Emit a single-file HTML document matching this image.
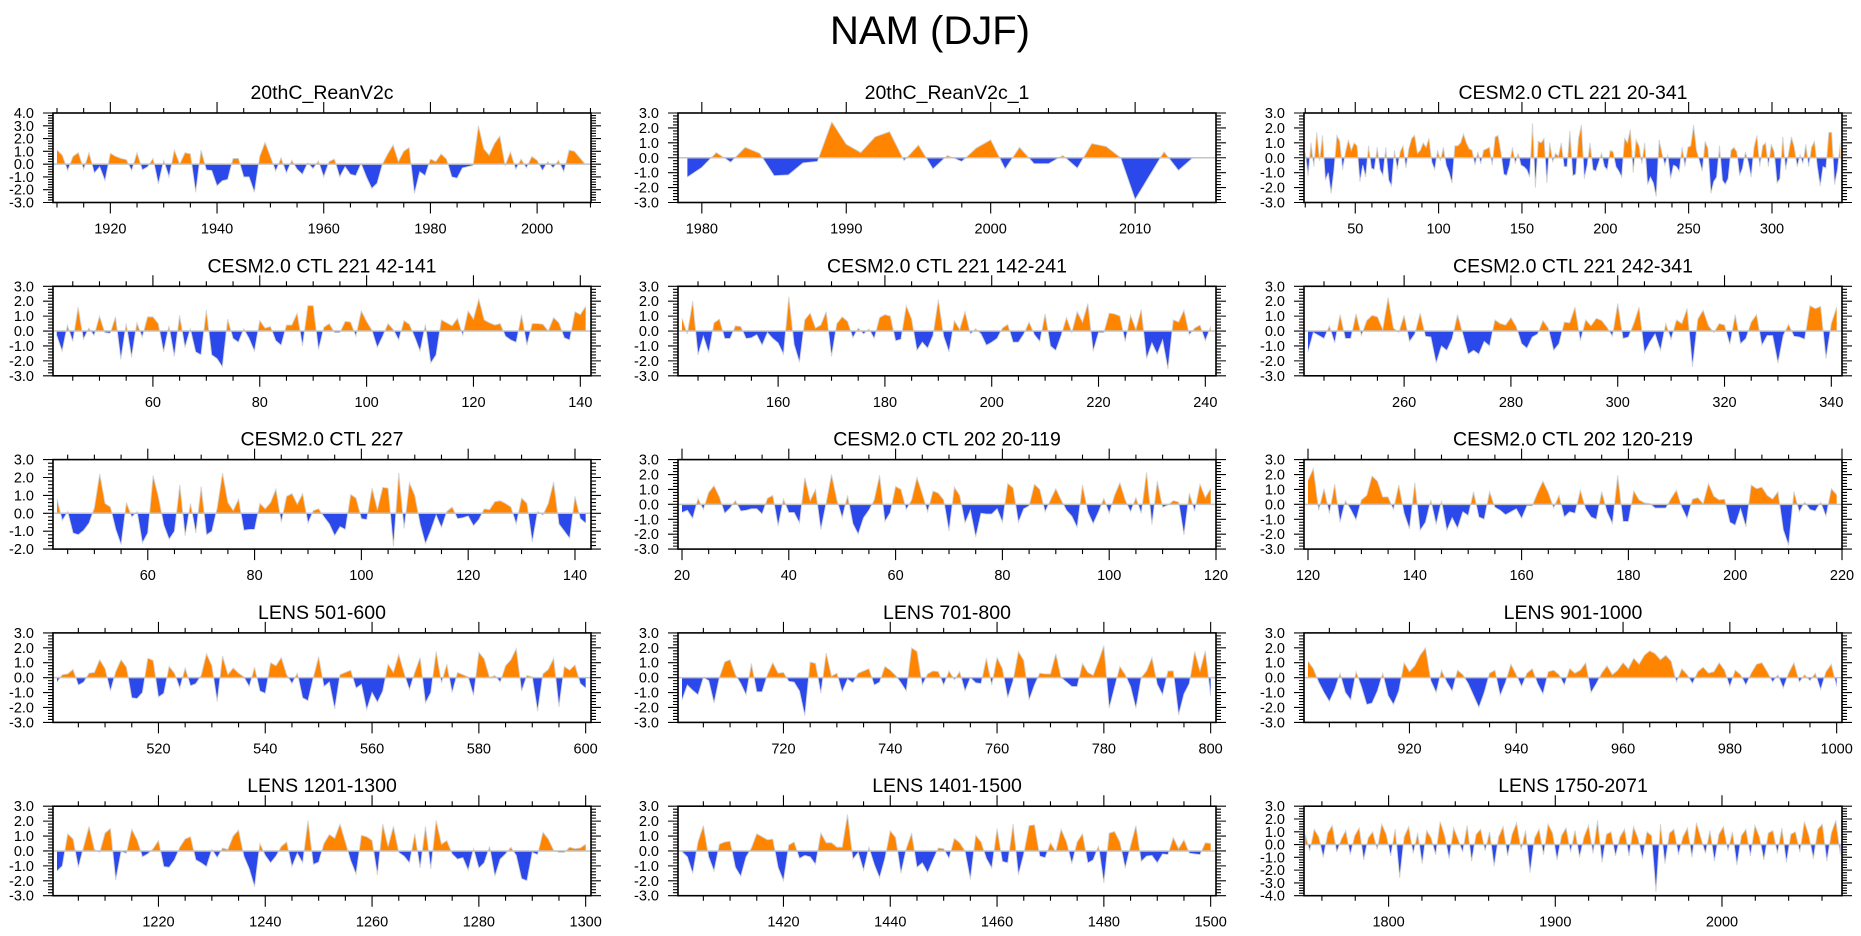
<!DOCTYPE html>
<html><head><meta charset="utf-8"><title>NAM (DJF)</title>
<style>
html,body{margin:0;padding:0;background:#fff;}
svg{display:block;font-family:"Liberation Sans",Arial,sans-serif;}
</style></head>
<body>
<svg id="fig" width="1861" height="936" viewBox="0 0 1861 936" xmlns="http://www.w3.org/2000/svg">
<rect x="0" y="0" width="1861" height="936" fill="#fff"/>
<text x="930" y="44" font-size="40" text-anchor="middle" fill="#000">NAM (DJF)</text>
</svg>
<script>
// ---------- data ----------
const reanV2cStart = 1910;
const reanV2cValues = [1.1,0.7,-0.5,0.6,0.9,-0.4,0.9,-0.7,-0.2,-1.3,
0.85,0.6,0.45,0.35,-0.5,0.9,-0.45,-0.2,0.45,-1.55,
0.3,-1.0,1.1,0,0.9,0.8,-2.2,1.1,-0.45,-0.5,
-1.7,-1.3,-1.2,0.45,0.45,-1.0,-1.0,-2.2,0.6,1.7,
0.6,-0.55,0.5,-0.7,0.3,-0.4,-0.8,0.1,-0.35,0.25,
-1.0,0.2,0.4,-1.0,-0.2,-0.8,-0.9,0.05,-1.0,-1.9,
-1.5,0,0.8,1.5,0.2,1.0,1.3,-2.3,-0.6,-0.9,
0.4,0.2,0.8,0.4,-1.0,-1.1,-0.3,-0.2,-0.1,3.0,
1.2,0.7,1.6,2.2,-0.1,0.95,-0.4,0.4,-0.3,0.6,
0.3,-0.5,0.2,-0.3,0.3,-0.6,1.1,1.0,0.5,0.0];

const reanV2c1Start = 1979;
const reanV2c1Values = [-1.3,-0.65,0.35,-0.3,0.7,0.3,-1.2,-1.15,-0.35,-0.25,2.4,0.9,0.35,1.4,1.75,-0.2,0.85,-0.75,0.15,-0.25,0.65,1.2,-0.75,0.7,-0.4,-0.4,0.15,-0.7,0.95,0.75,0,-2.8,-1.2,0.4,-0.85,0];

const ctl221FullValues = [0.35,-1.2,1.0,-0.6,1.7,-0.2,1.5,-1.5,-1.0,-2.4,-0.8,1.5,1.1,-0.8,0.4,1.2,0.5,1.0,0.8,-1.6,-0.5,-1.3,0.8,-0.7,-0.8,0.7,-0.8,-1.2,0.7,-1.5,-1.9,0.5,-0.8,0.4,0.8,-0.7,0.6,1.3,1.5,0.3,0.5,1.0,0.7,1.3,-0.3,-0.8,0.5,-0.2,0.7,-0.5,-1.0,-1.7,0.8,0.8,1.0,1.6,1.0,0.6,0.5,-0.5,0.4,-0.4,0.5,0.6,0.7,-0.5,1.4,1.5,0.4,-1.1,-1.2,-0.5,0.7,-0.4,0.3,-0.5,-0.6,-0.8,-1.3,2.3,-2.0,1.1,1.0,1.3,-1.7,1.0,-0.3,0.3,0.1,1.0,-0.6,-0.6,1.8,-1.2,-1.1,1.3,2.2,-1.4,-0.5,1.0,-0.8,-0.9,-0.3,0.3,-0.6,-0.8,0.5,0.4,-0.6,-0.9,-1.3,1.3,1.0,1.9,-1.0,1.2,0.8,-0.4,1.0,-1.8,-1.3,-1.7,-2.6,1.2,0.3,-0.5,0.2,-1.4,-0.5,-0.6,-0.9,0.7,-0.6,0.7,0.8,2.2,0.5,-0.2,-0.9,1.1,0.6,-2.4,-1.6,-1.3,0.8,-1.5,-1.8,-1.4,0.5,0.7,0.4,-1.2,-0.7,0.4,-0.3,-1.3,0.7,1.5,-0.6,0.8,1.0,-0.6,0.9,0.4,-1.7,-1.4,1.4,-0.8,0.3,1.4,0.7,-0.6,0.2,-0.4,0.9,-0.6,0.7,1.1,-0.6,-1.9,-0.6,-0.7,1.7,1.7,-1.8,-0.8,1.0];

const ctl221aStart = 42;
const ctl221aValues = [-0.3,-1.35,0.4,-0.7,1.6,-0.55,0.2,-0.3,1.0,-0.1,
-0.15,0.95,-1.9,0.5,-1.75,0.55,-0.4,0.95,0.95,0.5,
-1.4,0.35,-1.7,1.05,-1.1,0.15,-1.4,-1.6,1.4,-1.6,
-1.85,-2.4,0.8,-0.5,-0.75,0.15,-0.5,-1.35,0.7,0.2,
0.3,-0.65,-0.95,0.4,0.4,1.2,-1.0,1.7,1.7,-1.25,
0.25,0.5,-0.1,-0.1,0.65,0.6,-0.35,1.35,0.65,0.05,
-1.1,-0.35,0.5,0.1,-0.6,0.7,0.45,-0.4,-1.35,0.45,
-2.15,-1.6,0.75,0.55,0.35,0.85,-0.3,1.35,0.8,2.15,
0.75,0.55,0.4,0.5,-0.35,-0.6,-0.75,1.1,-0.95,0.5,
0.5,0.45,0.0,0.9,0.55,-0.45,-0.6,1.3,1.1,1.65];

const ctl221bStart = 142;
const ctl221bValues = [0.85,-0.2,2.0,-1.6,-0.35,-1.45,0.55,0.8,-0.5,-0.5,
0.35,0.3,-0.5,-0.45,-0.25,-0.95,-0.1,-0.5,-0.8,-1.55,
2.3,-0.9,-2.1,0.75,1.2,0.2,0.4,1.3,-1.7,0.5,
0.95,0.65,-0.45,0.2,-0.2,0.15,-0.5,0.9,1.1,1.0,
-0.65,-0.55,1.7,0.8,-1.3,-0.75,-1.15,-0.3,2.1,-0.35,
-1.4,0.7,0.1,1.3,-0.2,0.15,-0.2,-0.95,-0.75,-0.5,
0.2,0.45,-0.75,-0.75,-0.2,0.6,-0.25,-0.7,1.15,-1.0,
-1.3,-0.3,0.9,-0.1,1.3,0.6,1.85,-1.35,-0.1,-0.1,
1.2,1.15,1.0,-0.7,1.05,0.1,1.45,-1.85,-0.8,-1.55,
-0.6,-2.55,0.75,0.6,1.4,-0.25,0.2,0.4,-0.65,0.3];

const ctl221cStart = 242;
const ctl221cValues = [-1.4,-0.1,-0.3,-0.5,0.35,-0.8,1.1,-0.5,-0.5,1.15,
-0.3,0.7,1.05,0.95,0.1,2.25,0.2,-0.1,1.05,-0.7,
-0.2,1.2,-0.35,-0.4,-2.15,-1.0,-1.3,-0.5,1.1,-0.2,
-1.55,-1.3,-1.55,-0.7,-1.0,0.75,0.5,0.4,0.9,0.3,
-0.85,-1.15,-0.4,-0.2,0.7,0.2,-1.3,-0.85,0.6,0.55,
1.6,-0.65,0.75,0.35,0.85,0.7,0.25,-0.35,1.85,-0.5,
-0.4,0.5,1.6,-1.45,-0.75,-0.2,-1.3,0.5,-0.55,0.75,
0.5,1.5,-2.4,0.8,1.4,0.35,-0.1,0.5,0.4,-0.9,
1.1,-0.85,-0.5,0.6,1.1,-0.95,-0.3,-0.3,-2.15,-0.3,
0.45,-0.35,-0.4,-0.55,1.7,1.5,1.65,-1.85,0.5,1.6];

const ctl227Start = 43;
const ctl227Values = [0.8,-0.4,0.1,-1.1,-1.2,-0.95,-0.55,0.3,2.2,0.55,
0.35,-0.9,-1.75,0.6,-0.2,0.1,-1.65,-1.1,2.1,0.9,
-0.65,-1.45,-1.0,1.6,-1.25,0.55,-1.1,1.5,-1.2,-1.0,
0.3,2.25,0.6,0.15,0.8,-0.95,-0.9,-0.9,0.55,0.25,
0.6,1.35,-0.5,0.95,1.1,0.5,1.1,-0.55,0.15,0.25,
-0.2,-0.6,-1.25,-0.75,-0.9,1.05,0.85,-0.3,-0.35,1.4,
0.2,1.45,1.4,-1.85,2.25,-0.85,1.7,1.0,-0.6,-1.7,
-0.95,-0.1,-0.8,0.1,0.35,-0.3,-0.25,-0.15,-0.7,-0.35,
0.25,0.2,0.65,0.7,0.55,0.35,-0.6,0.85,0.55,-1.6,
0.1,-0.1,0.55,1.75,-0.6,-1.0,-1.4,0.95,-0.3,-0.55];

const ctl202aStart = 20;
const ctl202aValues = [-0.55,-0.4,-0.95,0.4,-0.35,0.8,1.25,0.5,-0.6,-0.25,
0.25,-0.45,-0.4,-0.3,-0.3,-0.65,0.4,0.6,-1.45,0.35,
-0.55,-0.55,-1.25,1.8,0.25,1.0,-1.7,0.1,2.0,0.3,
-0.9,0.6,-1.3,-2.0,-0.9,-0.4,0.3,1.95,-1.15,-0.55,
1.2,1.0,-0.35,0.3,1.8,0.7,-0.5,0.9,0.75,0.3,
-1.8,1.15,0.6,-1.25,-0.4,-2.2,-0.6,-0.65,-0.65,-0.3,
-1.2,1.4,1.1,-1.2,-0.3,-0.1,1.35,1.0,-0.5,0.3,
1.05,0.3,-0.4,-0.8,-1.55,1.3,-0.5,-1.3,-0.5,0.4,
-0.6,0.6,1.45,0.3,-0.5,0.45,-0.6,2.15,-1.35,1.55,
-0.2,-0.05,0.25,0.15,-2.05,0.75,-0.45,1.35,0.45,1.05];

const ctl202bStart = 120;
const ctl202bValues = [1.6,2.4,-0.4,1.05,-0.6,1.35,-1.2,0.25,-0.35,-1.05,
0.3,0.6,1.9,1.55,0.5,0.5,-0.35,1.3,-0.6,-1.65,
1.45,-1.75,-1.2,0.3,-1.35,0.25,-1.75,-0.9,-1.6,-0.5,
-0.75,0.85,-0.85,-1.0,0.85,-0.2,-0.4,-0.7,-0.5,-0.3,
-0.95,-0.1,-0.1,0.8,1.55,0.8,-0.25,0.6,-0.85,-0.5,
-0.6,0.95,-0.3,-0.85,-1.0,0.85,-0.5,-1.3,1.95,-1.15,
-1.15,0.9,0.3,0.1,0.05,-0.25,-0.25,-0.25,0.4,0.95,
-0.2,-0.95,0.35,0.45,0.05,1.4,0.55,0.3,0.35,-1.2,
-1.4,-0.3,-1.5,1.3,1.05,1.15,0.6,0.35,0.85,-1.7,
-2.75,0.85,-0.5,0.15,-0.35,-0.45,0.15,-0.8,1.05,0.65];

const lens501Start = 501;
const lens501Values = [-0.3,0.2,0.25,0.55,-0.5,-0.3,0.3,0.35,1.2,0.6,
-0.9,0.4,1.2,0.7,-1.35,-1.4,-1.0,1.3,1.15,-1.3,
-1.05,0.75,0.3,-0.7,0.65,-0.55,-0.4,0.15,1.6,0.8,
-1.6,1.45,0.2,0.65,0.3,0.05,-0.6,0.7,-0.9,-1.05,
1.0,0.8,1.35,0.2,-0.4,0.3,-1.35,-1.55,0.0,1.4,
-0.6,-0.3,-2.1,0.2,0.35,0.5,-0.7,-0.45,-2.15,-1.0,
-1.65,-0.9,0.9,0.35,1.55,0.3,-0.8,0.35,1.35,-1.7,
-1.0,1.75,-0.35,0.9,-1.0,0.35,0.2,0.05,-1.2,1.7,
1.25,0.0,0.15,-0.3,0.8,1.2,1.95,-0.9,0.15,0.05,
-2.25,0.25,0.55,1.3,-1.95,0.75,0.5,0.85,-0.4,-0.7];

const lens701Start = 701;
const lens701Values = [-1.5,-0.5,-0.85,-1.15,0.0,-0.2,-1.7,0.0,1.05,1.2,
0.2,-0.4,-1.15,0.95,-0.95,-0.95,0.2,1.0,0.3,0.35,
-0.25,-0.3,-0.9,-2.55,1.05,0.95,-1.05,1.65,0.1,0.3,
-0.95,-0.1,-0.35,0.3,0.45,0.6,-0.5,-0.3,0.75,0.5,
0.15,-0.35,-0.9,2.0,1.75,-0.5,0.25,0.45,0.4,-0.5,
0.45,-0.15,0.4,-0.9,0.0,-0.35,-0.4,1.3,-0.5,1.35,
0.6,-1.35,-0.2,1.75,1.15,-1.5,-0.5,0.3,0.25,0.25,
1.6,0.0,-0.3,-0.6,-0.6,0.95,0.35,0.15,1.1,2.15,
-2.05,-0.65,0.75,0.2,-0.6,-2.05,0.0,0.45,1.35,-0.45,
-1.15,0.45,0.45,-2.5,-1.1,-0.4,1.75,0.45,1.8,-1.25];

const lens901Start = 901;
const lens901Values = [1.1,0.6,-0.3,-1.0,-1.6,-0.8,0.3,-1.0,-1.5,0.4,
-0.6,-1.8,-1.7,-0.9,0.3,-1.2,-1.8,-0.9,1.0,0.4,
0.8,1.5,2.0,-0.2,-1.0,0.5,-0.3,-0.9,0.5,0.2,
-0.4,-1.2,-2.0,-1.0,0.3,0.5,-1.2,-0.3,0.9,0.2,
-0.6,0.3,0.6,-0.4,-1.1,0.4,0.5,0.2,-0.5,0.6,
0.3,0.5,1.0,-1.0,-0.4,0.3,0.8,0.2,0.5,1.0,
0.6,1.3,0.9,1.5,1.8,1.6,1.2,1.5,1.1,-0.3,
0.6,0.2,-0.4,0.4,0.7,0.3,0.4,1.0,0.5,-0.6,
0.5,0.2,-0.5,0.3,0.9,1.0,0.4,-0.3,0.2,-0.7,
0.3,1.0,-0.3,0.2,-0.2,0.3,-0.8,0.4,0.9,-0.6];

const lens1201Start = 1201;
const lens1201Values = [-1.35,-1.0,1.15,0.8,-1.1,0.3,1.65,0.1,-0.1,1.2,
1.5,-1.95,-0.05,-0.15,1.45,0.75,-0.4,-0.2,0.15,0.7,
-1.05,-1.1,-0.6,0.25,0.8,0.95,-0.6,-0.8,-1.05,0.1,
-0.45,0.2,0.1,1.0,1.4,-0.35,-1.2,-2.4,0.5,-0.3,
-0.8,-0.35,0.3,0.6,-1.05,-0.15,-0.8,2.05,-0.9,-0.75,
0.5,1.1,0.85,1.8,0.6,-0.65,-1.55,1.05,0.95,0.7,
-1.6,1.8,0.3,1.65,-0.1,-0.35,-0.8,1.15,-1.15,1.65,
-1.2,2.05,0.45,0.7,-0.2,-0.55,-0.45,-1.3,0.15,-1.15,
-0.8,0.3,-1.7,-0.55,-0.2,0.25,-0.3,-1.85,-2.0,-0.1,
-0.25,1.25,0.8,0.05,-0.1,-0.1,0.25,0.15,0.2,0.45];

const lens1401Start = 1401;
const lens1401Values = [-0.05,-0.4,-1.5,0.6,1.7,-0.4,-1.35,0.45,0.6,0.65,
-1.1,-1.7,-0.4,0.2,1.15,0.95,0.75,0.8,-1.1,-2.0,
0.4,0.6,-0.5,-0.3,-0.4,-0.9,1.2,0.55,0.55,0.25,
0.25,2.45,-0.55,-0.1,-1.3,0.25,-0.9,-1.8,-0.5,1.35,
0.9,-1.5,0.15,1.2,-1.1,-0.8,-1.45,-0.6,0.2,0.15,
-0.5,0.85,0.55,0.0,-1.9,1.05,0.6,-0.5,-1.15,1.5,
-0.7,-0.8,1.8,-1.6,-0.2,1.7,1.75,-0.35,-0.45,0.55,
-0.05,1.45,0.6,-0.85,0.6,1.15,-0.8,-0.6,0.35,-2.15,
1.2,1.3,0.6,-1.15,0.35,1.7,-0.7,-0.35,-0.3,-0.8,
-0.2,-0.25,0.9,0.15,0.75,-0.15,-0.2,-0.25,0.55,0.5];

const lens1750Values = [0.8,-0.5,1.2,0.6,-1.0,0.9,1.5,-0.6,0.4,1.1,-0.8,0.7,1.3,-1.2,0.5,1.0,-0.4,1.6,0.8,-0.9,
1.2,-2.6,0.6,1.4,-0.7,0.9,-1.5,1.1,0.5,-0.8,1.8,0.7,-1.1,1.3,0.4,-0.6,1.5,-1.3,0.8,1.2,
-0.5,1.0,-1.7,0.6,1.4,-0.9,0.8,1.7,-0.4,1.1,-2.2,0.5,1.2,-0.8,1.6,0.9,-1.2,0.7,1.3,-0.6,
1.1,-1.0,0.6,1.5,-0.7,1.9,-1.4,0.8,1.0,-0.9,0.6,1.2,-0.9,1.4,0.5,-1.1,1.0,0.7,-3.7,1.6,
-1.5,0.9,1.2,-0.8,0.6,1.3,-1.0,1.7,0.5,-0.7,1.1,-1.3,0.8,1.4,-0.5,1.0,-1.6,0.7,1.2,-0.9,
1.5,0.6,-1.2,0.9,1.1,-0.7,1.3,-1.4,0.8,1.0,-0.6,1.8,0.7,-1.1,1.2,1.6,-1.3,0.9,1.9,-0.8];

// ---------- panel layout ----------
const COLX = [53, 678, 1304];
const ROWY = [113, 286.3, 459.6, 632.9, 806.2];
const PW = 538, PH = 89.5;
const ORANGE = '#ff8500', BLUE = '#2b48ea';

const panels = [
 {title:'20thC_ReanV2c', r:0, c:0, vals:reanV2cValues, start:reanV2cStart, end:null, xmin:1909.25, xmax:2010.1, ymin:-3, ymax:4, major:20, minor:5},
 {title:'20thC_ReanV2c_1', r:0, c:1, vals:reanV2c1Values, start:reanV2c1Start, end:null, xmin:1978.35, xmax:2015.6, ymin:-3, ymax:3, major:10, minor:2},
 {title:'CESM2.0 CTL 221 20-341', r:0, c:2, vals:ctl221FullValues, start:20, end:341, xmin:19.25, xmax:342, ymin:-3, ymax:3, major:50, minor:10},
 {title:'CESM2.0 CTL 221 42-141', r:1, c:0, vals:ctl221aValues, start:ctl221aStart, end:null, xmin:41.3, xmax:142, ymin:-3, ymax:3, major:20, minor:5},
 {title:'CESM2.0 CTL 221 142-241', r:1, c:1, vals:ctl221bValues, start:ctl221bStart, end:null, xmin:141.25, xmax:242, ymin:-3, ymax:3, major:20, minor:5},
 {title:'CESM2.0 CTL 221 242-341', r:1, c:2, vals:ctl221cValues, start:ctl221cStart, end:null, xmin:241.25, xmax:342, ymin:-3, ymax:3, major:20, minor:5},
 {title:'CESM2.0 CTL 227', r:2, c:0, vals:ctl227Values, start:ctl227Start, end:null, xmin:42.25, xmax:143, ymin:-2, ymax:3, major:20, minor:5},
 {title:'CESM2.0 CTL 202 20-119', r:2, c:1, vals:ctl202aValues, start:ctl202aStart, end:null, xmin:19.25, xmax:120, ymin:-3, ymax:3, major:20, minor:5},
 {title:'CESM2.0 CTL 202 120-219', r:2, c:2, vals:ctl202bValues, start:ctl202bStart, end:null, xmin:119.25, xmax:220, ymin:-3, ymax:3, major:20, minor:5},
 {title:'LENS 501-600', r:3, c:0, vals:lens501Values, start:lens501Start, end:null, xmin:500.25, xmax:601, ymin:-3, ymax:3, major:20, minor:5},
 {title:'LENS 701-800', r:3, c:1, vals:lens701Values, start:lens701Start, end:null, xmin:700.25, xmax:801, ymin:-3, ymax:3, major:20, minor:5},
 {title:'LENS 901-1000', r:3, c:2, vals:lens901Values, start:lens901Start, end:null, xmin:900.25, xmax:1001, ymin:-3, ymax:3, major:20, minor:5},
 {title:'LENS 1201-1300', r:4, c:0, vals:lens1201Values, start:lens1201Start, end:null, xmin:1200.25, xmax:1301, ymin:-3, ymax:3, major:20, minor:5},
 {title:'LENS 1401-1500', r:4, c:1, vals:lens1401Values, start:lens1401Start, end:null, xmin:1400.25, xmax:1501, ymin:-3, ymax:3, major:20, minor:5},
 {title:'LENS 1750-2071', r:4, c:2, vals:lens1750Values, start:1750, end:2071, xmin:1749.25, xmax:2072, ymin:-4, ymax:3, major:100, minor:20}
];

const NS = 'http://www.w3.org/2000/svg';
const svg = document.getElementById('fig');
function mk(parent, tag, attrs) {
  const el = document.createElementNS(NS, tag);
  for (const k in attrs) el.setAttribute(k, attrs[k]);
  parent.appendChild(el);
  return el;
}

panels.forEach(function (p, pi) {
  const L = COLX[p.c], T = ROWY[p.r], R = L + PW, B = T + PH;
  const xs = (v) => L + (v - p.xmin) / (p.xmax - p.xmin) * PW;
  const ys = (v) => T + (p.ymax - v) / (p.ymax - p.ymin) * PH;
  const n = p.vals.length;
  const yearOf = (i) => p.end === null ? p.start + i : p.start + i * (p.end - p.start) / (n - 1);

  const g = mk(svg, 'g', {});
  
  

  const y0 = ys(0);
  const cidA = 'clipA' + pi, cidB = 'clipB' + pi;
  const defs = mk(g, 'defs', {});
  const cpA = mk(defs, 'clipPath', {id: cidA});
  mk(cpA, 'rect', {x: L, y: T, width: PW, height: y0 - T});
  const cpB = mk(defs, 'clipPath', {id: cidB});
  mk(cpB, 'rect', {x: L, y: y0, width: PW, height: B - y0});

  let pts = [];
  for (let i = 0; i < n; i++) pts.push(xs(yearOf(i)).toFixed(2) + ',' + ys(p.vals[i]).toFixed(2));
  const poly = xs(yearOf(0)).toFixed(2) + ',' + y0 + ' ' + pts.join(' ') + ' ' + xs(yearOf(n - 1)).toFixed(2) + ',' + y0;

  const above = mk(g, 'polygon', {points: poly, fill: ORANGE, 'clip-path': 'url(#' + cidA + ')'});
  
  
  const below = mk(g, 'polygon', {points: poly, fill: BLUE, 'clip-path': 'url(#' + cidB + ')'});
  
  
  const line = mk(g, 'polyline', {points: pts.join(' '), fill: 'none', stroke: '#d2d2d2', 'stroke-width': 0.9});
  
  
  const zl = mk(g, 'line', {x1: L, x2: R, y1: y0, y2: y0, stroke: '#c4c4c4', 'stroke-width': 1.5});
  
  

  // ticks
  let tk = '';
  for (let v = Math.ceil(p.ymin / 0.2 - 1e-6) * 0.2; v <= p.ymax + 1e-6; v += 0.2) {
    const yy = ys(v).toFixed(2);
    const isMaj = Math.abs(v - Math.round(v)) < 1e-6;
    const len = isMaj ? 10 : 5;
    tk += 'M' + L + ' ' + yy + 'h-' + len + 'M' + R + ' ' + yy + 'h' + len;
  }
  for (let v = Math.ceil(p.xmin / p.minor) * p.minor; v <= p.xmax; v += p.minor) {
    const xx = xs(v).toFixed(2);
    const isMaj = Math.abs(v / p.major - Math.round(v / p.major)) < 1e-6;
    const len = isMaj ? 11 : 5;
    tk += 'M' + xx + ' ' + T + 'v-' + len + 'M' + xx + ' ' + B + 'v' + len;
  }
  const ticks = mk(g, 'path', {d: tk, stroke: '#000', 'stroke-width': 1.1, fill: 'none'});
  
  

  const frame = mk(g, 'rect', {x: L, y: T, width: PW, height: PH, fill: 'none', stroke: '#000', 'stroke-width': 1.6});
  
  

  for (let v = p.ymin; v <= p.ymax; v++) {
    const t = mk(g, 'text', {x: L - 19, y: (ys(v) + 5).toFixed(2), 'font-size': 14.5, 'text-anchor': 'end', fill: '#000'});
    t.textContent = v.toFixed(1);
    
    
  }
  for (let v = Math.ceil(p.xmin / p.major) * p.major; v <= p.xmax; v += p.major) {
    const t = mk(g, 'text', {x: xs(v).toFixed(2), y: B + 31, 'font-size': 14.5, 'text-anchor': 'middle', fill: '#000'});
    t.textContent = String(v);
    
    
  }
  const tt = mk(g, 'text', {x: L + PW / 2, y: T - 14, 'font-size': 19.5, 'text-anchor': 'middle', fill: '#000'});
  tt.textContent = p.title;
  
  
});
</script>
</body></html>
